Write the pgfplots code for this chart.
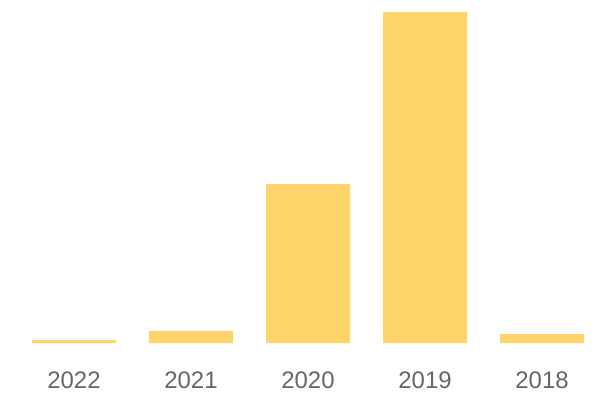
\documentclass[border=0pt]{standalone}
\usepackage{pgfplots}
\pgfplotsset{compat=1.18}
\usepackage{fontspec}
\setmainfont{Liberation Sans}
\definecolor{barc}{HTML}{FFD56B}
\definecolor{labc}{HTML}{666666}
\begin{document}
\begin{tikzpicture}[x=1bp,y=1bp]
\begin{axis}[
  at={(0,0)}, anchor=south west,
  scale only axis, width=600bp, height=343bp,
  xmin=-0.63248, xmax=4.49573,
  ymin=0, ymax=343,
  axis line style={draw=none},
  ytick=\empty,
  xtick={0,1,2,3,4},
  xticklabels={2022,2021,2020,2019,2018},
  major tick length=0pt,
  xticklabel style={font=\fontsize{24}{28}\selectfont, text=labc, anchor=base, yshift=-45bp},
  /pgf/number format/assume math mode=true,
  ybar, bar width=84bp, bar shift=0pt,
  clip=false,
]
\addplot[fill=barc, draw=none] coordinates {(0,3) (1,12) (2,159) (3,331) (4,9)};
\end{axis}
\path[use as bounding box] (0,-57) rectangle (600,343);
\end{tikzpicture}
\end{document}
